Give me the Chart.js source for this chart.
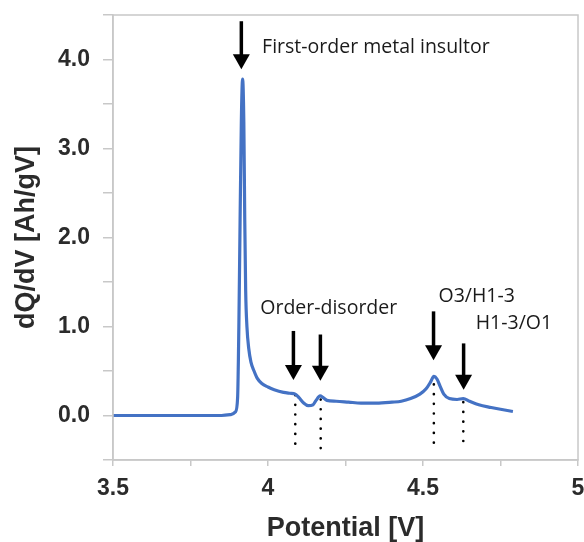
<!DOCTYPE html>
<html>
<head>
<meta charset="utf-8">
<script src="https://cdn.jsdelivr.net/npm/chart.js@4/dist/chart.umd.min.js"></script>
<style>
  body { margin: 0; background: #fff; }
  #wrap { width: 584px; height: 542px; }
</style>
</head>
<body>
<div id="wrap"><canvas id="myChart" width="584" height="542"></canvas></div>
<script>
// dQ/dV curve
const potential = [3.50, 3.60, 3.70, 3.80, 3.85, 3.88, 3.895, 3.902, 3.906, 3.910, 3.914, 3.918,
    3.922, 3.925, 3.928, 3.932, 3.938, 3.945, 3.955, 3.965, 3.98, 4.00, 4.02, 4.05, 4.07, 4.088,
    4.10, 4.115, 4.13, 4.145, 4.155, 4.168, 4.178, 4.19, 4.22, 4.26, 4.30, 4.35, 4.40, 4.43, 4.46,
    4.49, 4.51, 4.525, 4.535, 4.545, 4.555, 4.567, 4.585, 4.61, 4.63, 4.65, 4.68, 4.72, 4.75, 4.79];
const dqdv = [0.0, 0.0, 0.0, 0.0, 0.0, 0.01, 0.04, 0.2, 1.0, 2.2, 3.3, 3.78,
    3.3, 2.2, 1.4, 1.0, 0.75, 0.6, 0.5, 0.42, 0.36, 0.32, 0.29, 0.26, 0.25, 0.24,
    0.2, 0.14, 0.11, 0.12, 0.17, 0.22, 0.2, 0.17, 0.16, 0.15, 0.14, 0.14, 0.15, 0.16, 0.19,
    0.24, 0.3, 0.38, 0.44, 0.41, 0.33, 0.24, 0.19, 0.18, 0.19, 0.16, 0.12, 0.09, 0.07, 0.045];

// dotted drop lines under the transitions
const dropX = [4.088, 4.170, 4.535, 4.630];
const dropTop = [0.23, 0.18, 0.35, 0.15];
const dropBottom = [-0.42, -0.46, -0.37, -0.38];

// arrows: x, tail value, tip value
const arrowX = [3.914, 4.082, 4.169, 4.534, 4.631];
const arrowTail = [4.43, 0.95, 0.91, 1.17, 0.81];
const arrowTip = [3.89, 0.40, 0.39, 0.62, 0.29];

// annotation texts, left edge x and middle y
const noteText = ['First-order metal insultor', 'Order-disorder', 'O3/H1-3', 'H1-3/O1'];
const noteX = [3.981, 3.975, 4.55, 4.67];
const noteY = [4.135, 1.205, 1.34, 1.04];

const xTicks = [3.5, 4, 4.5, 5];
const yTicks = [0, 1, 2, 3, 4];

const curve = potential.map((v, i) => ({x: v, y: dqdv[i]}));

const dropSets = dropX.map((x, i) => ({
    data: [{x: x, y: dropTop[i]}, {x: x, y: dropBottom[i]}],
    borderColor: '#000',
    borderWidth: 2.6,
    borderDash: [0.1, 9.6],
    borderCapStyle: 'round',
    pointRadius: 0
}));

const annotations = {
    id: 'annotations',
    afterDatasetsDraw(chart) {
        const ctx = chart.ctx;
        const xs = chart.scales.x, ys = chart.scales.y;
        ctx.save();
        ctx.fillStyle = '#000';
        ctx.strokeStyle = '#000';
        arrowX.forEach((v, i) => {
            const x = xs.getPixelForValue(v);
            const y0 = ys.getPixelForValue(arrowTail[i]);
            const y1 = ys.getPixelForValue(arrowTip[i]);
            ctx.lineWidth = 3.5;
            ctx.beginPath();
            ctx.moveTo(x, y0);
            ctx.lineTo(x, y1 - 12);
            ctx.stroke();
            ctx.beginPath();
            ctx.moveTo(x - 8.5, y1 - 15);
            ctx.lineTo(x + 8.5, y1 - 15);
            ctx.lineTo(x, y1);
            ctx.closePath();
            ctx.fill();
        });
        ctx.fillStyle = '#1a1a1a';
        ctx.font = '19.5px "Open Sans"';
        ctx.textBaseline = 'middle';
        ctx.textAlign = 'left';
        noteText.forEach((t, i) => {
            ctx.fillText(t, xs.getPixelForValue(noteX[i]), ys.getPixelForValue(noteY[i]));
        });
        // light frame round the plot
        const a = chart.chartArea;
        ctx.strokeStyle = '#c8c8c8';
        ctx.lineWidth = 1.5;
        ctx.strokeRect(a.left, a.top, a.right - a.left, a.bottom - a.top);
        ctx.restore();
    }
};

const ctx = document.getElementById('myChart').getContext('2d');
const myChart = new Chart(ctx, {
    type: 'line',
    data: {
        datasets: [{
            data: curve,
            borderColor: '#4472c4',
            borderWidth: 3.2,
            pointRadius: 0,
            cubicInterpolationMode: 'monotone'
        }].concat(dropSets)
    },
    options: {
        responsive: false,
        animation: false,
        layout: { padding: { top: 15, right: 6, left: 0, bottom: 0 } },
        plugins: { legend: { display: false }, tooltip: { enabled: false } },
        scales: {
            x: {
                type: 'linear',
                min: 3.5,
                max: 5,
                afterFit: (scale) => {
                    scale.height = 82;
                    scale.paddingLeft = 0;
                    scale.paddingRight = 0;
                },
                border: { color: '#c8c8c8', width: 1.5 },
                grid: { drawOnChartArea: false, tickLength: 6, color: '#c8c8c8', lineWidth: 1.5 },
                ticks: {
                    stepSize: 0.25,
                    padding: 9,
                    color: '#2b2b2b',
                    font: { family: '"Liberation Sans", Arial', size: 23, weight: 'bold' },
                    callback: (v) => xTicks.some(t => Math.abs(t - v) < 1e-6) ? String(v) : ''
                },
                title: {
                    display: true,
                    text: 'Potential [V]',
                    color: '#2b2b2b',
                    padding: { top: 0, bottom: -3 },
                    font: { family: '"Liberation Sans", Arial', size: 27, weight: 'bold' }
                }
            },
            y: {
                min: -0.5,
                max: 4.5,
                afterFit: (scale) => {
                    scale.width = 113;
                    scale.paddingTop = 0;
                    scale.paddingBottom = 0;
                },
                border: { color: '#c8c8c8', width: 1.5 },
                grid: { drawOnChartArea: false, tickLength: 10, color: '#c8c8c8', lineWidth: 1.5 },
                ticks: {
                    stepSize: 0.5,
                    padding: 13,
                    color: '#2b2b2b',
                    font: { family: '"Liberation Sans", Arial', size: 23, weight: 'bold' },
                    callback: (v) => yTicks.some(t => Math.abs(t - v) < 1e-6) ? v.toFixed(1) : ''
                },
                title: {
                    display: true,
                    text: 'dQ/dV [Ah/gV]',
                    color: '#2b2b2b',
                    padding: { top: 10, bottom: 0 },
                    font: { family: '"Liberation Sans", Arial', size: 27, weight: 'bold' }
                }
            }
        }
    },
    plugins: [annotations]
});
</script>
</body>
</html>
